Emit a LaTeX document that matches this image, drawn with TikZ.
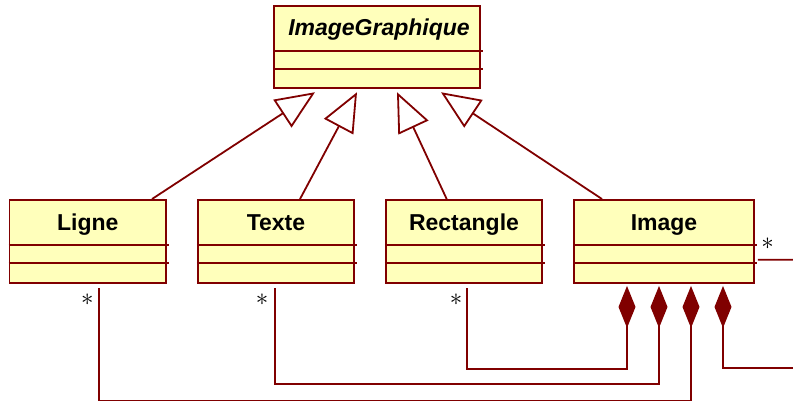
\documentclass[tikz,border=0pt]{standalone}
\usepackage{fontspec}
\setmainfont{Liberation Sans}
\usetikzlibrary{arrows.meta,calc}
\definecolor{umlred}{RGB}{128,0,0}
\definecolor{umlyellow}{RGB}{255,255,187}
\tikzset{
  classbox/.style={draw=umlred,fill=umlyellow,line width=1.9pt,minimum height=82.7pt,inner sep=0pt},
  classname/.style={anchor=base,inner sep=0pt,font=\fontsize{23}{27}\selectfont\bfseries},
  inherit/.style={draw=umlred,line width=1.8pt,-{Triangle[open,length=39pt,width=33pt]}},
  compose/.style={draw=umlred,line width=1.8pt,{Diamond[length=42pt,width=17pt]}-},
  assoc/.style={draw=umlred,line width=1.8pt},
  mult/.style={inner sep=0pt,font=\fontsize{30}{34}\selectfont}
}
\begin{document}
\begin{tikzpicture}[x=1pt,y=-1pt]
  \useasboundingbox (0,0) rectangle (793,401);
  % classes
  \node[classbox,minimum width=206,minimum height=82.3] (ig) at (377,47.15) {};
  \foreach \n/\x/\w in {ligne/87.75/156.5, texte/276/156.5, rect/464/156.5, image/664/180}
    \node[classbox,minimum width=\w] (\n) at (\x,241.35) {};
  \node[classname] (ig-name) at ($(ig.north)+(2,30)$) {\itshape ImageGraphique};
  \foreach \n/\t in {ligne/Ligne, texte/Texte, rect/Rectangle, image/Image}
    \node[classname] (\n-name) at ($(\n.north)+(0,31)$) {\t};
  \foreach \n in {ig,ligne,texte,rect,image}
    \foreach \d in {45.7,63.7}
      \draw[assoc] ([yshift=-\d pt]\n.north west) -- ([xshift=2pt,yshift=-\d pt]\n.north east);

  % generalisation
  \foreach \n/\a/\b in {ligne/64.25/-62, texte/24/-20, rect/-17.3/20, image/-62/64}
    \draw[inherit] ([xshift=\a pt]\n.north) -- ([xshift=\b pt,yshift=-3pt]ig.south);

  % composition
  \coordinate (out1) at (793,368);
  \coordinate (out2) at (793,259.7);
  \draw[compose] ([xshift=-37pt,yshift=-2.3pt]image.south) -- ++(0,82.7) -| ([xshift=2.7pt,yshift=-4pt]rect.south);
  \draw[compose] ([xshift=-5pt,yshift=-2.3pt]image.south) -- ++(0,98.3) -| ([xshift=-1pt,yshift=-4pt]texte.south);
  \draw[compose] ([xshift=27pt,yshift=-2.3pt]image.south) -- ++(0,115) -| ([xshift=10.95pt,yshift=-4pt]ligne.south);
  \draw[compose] ([xshift=59pt,yshift=-2.3pt]image.south) |- (out1);
  \draw[assoc] ([xshift=3pt,yshift=-18.3pt]image.east) -- (out2);

  % multiplicities
  \node[mult] (m-ligne) at (87.3,300) {$\ast$};
  \node[mult] (m-texte) at (262,300) {$\ast$};
  \node[mult] (m-rect) at (456,300) {$\ast$};
  \node[mult] (m-image) at (767.7,243.3) {$\ast$};
\end{tikzpicture}
\end{document}
